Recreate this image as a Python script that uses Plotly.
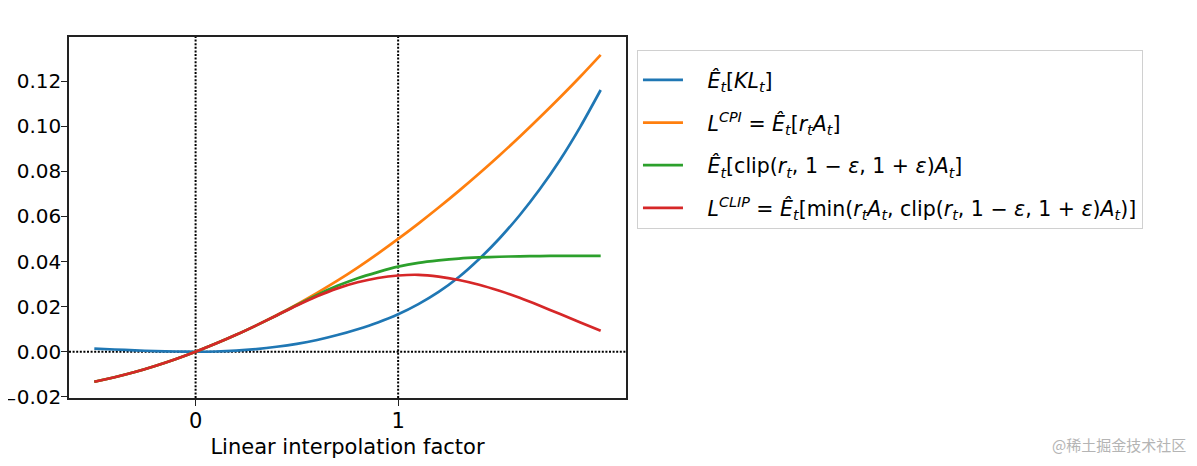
import plotly.graph_objects as go

# interpolation factor
alpha = [-0.5, -0.4, -0.3, -0.2, -0.1, 0.0, 0.1, 0.2, 0.3, 0.4, 0.5, 0.6, 0.7,
         0.8, 0.9, 1.0, 1.1, 1.2, 1.3, 1.4, 1.5, 1.6, 1.7, 1.8, 1.9, 2.0]

kl = [0.0014, 0.0010, 0.0006, 0.0003, 0.0001, 0.0, 0.0001, 0.0005, 0.0012, 0.0022,
      0.0035, 0.0052, 0.0074, 0.0100, 0.0130, 0.0166, 0.0211, 0.0265, 0.0331,
      0.0411, 0.0502, 0.0605, 0.0721, 0.0851, 0.0998, 0.1160]

l_cpi = [-0.0133, -0.0113, -0.0090, -0.0063, -0.0033, 0.0, 0.0036, 0.0075, 0.0117,
         0.0162, 0.0210, 0.0261, 0.0315, 0.0373, 0.0435, 0.0500, 0.0568, 0.0639,
         0.0713, 0.0790, 0.0870, 0.0953, 0.1039, 0.1128, 0.1220, 0.1316]

clip_obj = [-0.0133, -0.0113, -0.0090, -0.0063, -0.0033, 0.0, 0.0036, 0.0075, 0.0117,
            0.0161, 0.0207, 0.0252, 0.0292, 0.0326, 0.0353, 0.0377, 0.0394, 0.0405,
            0.0413, 0.0418, 0.0421, 0.0423, 0.0424, 0.0425, 0.0425, 0.0425]

l_clip = [-0.0133, -0.0113, -0.0090, -0.0063, -0.0033, 0.0, 0.0036, 0.0075, 0.0117,
          0.0161, 0.0205, 0.0246, 0.0281, 0.0308, 0.0327, 0.0338, 0.0341, 0.0333,
          0.0318, 0.0297, 0.0270, 0.0239, 0.0204, 0.0167, 0.0130, 0.0093]

x_ticks = [0, 1]
y_ticks = [-0.02, 0.0, 0.02, 0.04, 0.06, 0.08, 0.10, 0.12]
y_ticktext = [
    (f"<span style='font-size:14px'>\u2212</span>{abs(v):.2f}" if v < 0 else f"{v:.2f}")
    for v in y_ticks
]

E = "<i>Ê</i><sub><i>t</i></sub>"
pad = "\u00a0\u00a0\u00a0"
names = [
    f"{pad}{E}[<i>KL</i><sub><i>t</i></sub>]",
    f"{pad}<i>L</i><sup><i>CPI</i></sup> = {E}[<i>r</i><sub><i>t</i></sub><i>A</i><sub><i>t</i></sub>]",
    f"{pad}{E}[clip(<i>r</i><sub><i>t</i></sub>, 1 − <i>ε</i>, 1 + <i>ε</i>)<i>A</i><sub><i>t</i></sub>]",
    f"{pad}<i>L</i><sup><i>CLIP</i></sup> = {E}[min(<i>r</i><sub><i>t</i></sub><i>A</i><sub><i>t</i></sub>, "
    f"clip(<i>r</i><sub><i>t</i></sub>, 1 − <i>ε</i>, 1 + <i>ε</i>)<i>A</i><sub><i>t</i></sub>)]",
]
colors = ["#1f77b4", "#ff7f0e", "#2ca02c", "#d62728"]
series = [kl, l_cpi, clip_obj, l_clip]

fig = go.Figure()
for i, (name, ys, c) in enumerate(zip(names, series, colors)):
    fig.add_trace(go.Scatter(
        x=alpha, y=ys, mode="lines", name=name,
        line=dict(color=c, width=2.7, shape="spline", smoothing=0.8),
        legendgroup=f"g{i}",
    ))

dot = dict(color="black", width=2, dash="2px,1.6px")
fig.add_vline(x=0, line=dot, layer="below")
fig.add_vline(x=1, line=dot, layer="below")
fig.add_hline(y=0, line=dot, layer="below")

# the page body adds an 8px offset, so the figure is 8px smaller than the window
font = "DejaVu Sans, Verdana, sans-serif"
fig.update_layout(
    width=1189, height=458,
    margin=dict(l=61, r=571, t=29, b=68, autoexpand=False),
    paper_bgcolor="white", plot_bgcolor="white",
    font=dict(family=font, size=21, color="black"),
    showlegend=True,
    legend=dict(
        x=1.0197, y=0.964, xanchor="left", yanchor="top",
        bordercolor="#d0d0d0", borderwidth=1, bgcolor="white",
        font=dict(family=font, size=20.5, color="black"),
        tracegroupgap=13, itemwidth=40,
        title=dict(text="\u00a0", font=dict(size=7)),
    ),
    xaxis=dict(
        range=[-0.625, 2.125], tickvals=x_ticks, ticktext=[str(v) for v in x_ticks],
        showgrid=False, zeroline=False, showline=True, linecolor="#222222", linewidth=1.5,
        mirror=True, ticks="outside", ticklen=6, tickwidth=1.3, tickcolor="#222222",
        ticklabelstandoff=-3,
        title=dict(text="Linear interpolation factor", font=dict(family=font, size=21), standoff=7),
        automargin=False,
    ),
    yaxis=dict(
        range=[-0.0205, 0.1395], tickvals=y_ticks, ticktext=y_ticktext,
        tickfont=dict(family=font, size=20),
        showgrid=False, zeroline=False, showline=True, linecolor="#222222", linewidth=1.5,
        mirror=True, ticks="outside", ticklen=6, tickwidth=1.3, tickcolor="#222222",
        ticklabelstandoff=-4,
        automargin=False,
    ),
)

fig.add_annotation(
    text="@稀土掘金技术社区", xref="paper", yref="paper",
    x=2.009, y=-0.130, xanchor="right", yanchor="middle", showarrow=False,
    font=dict(family="Noto Sans CJK SC", size=15, color="#b4b4b4"),
)

fig.write_html("out.html")
